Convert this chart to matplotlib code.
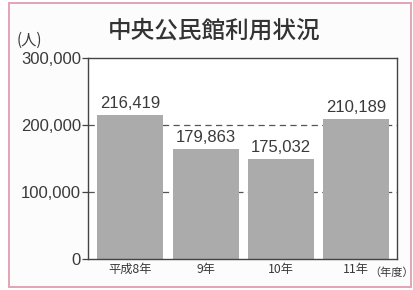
import matplotlib.pyplot as plt
from matplotlib.patches import Rectangle

# data
years = ['平成8年', '9年', '10年', '11年']
usage_labels = ['216,419', '179,863', '175,032', '210,189']
# bar heights as drawn in the picture (not to scale with the printed numbers)
bar_heights = [215000, 164000, 149000, 209000]
yticks = [0, 100000, 200000, 300000]
ytick_labels = ['0', '100,000', '200,000', '300,000']

plt.rcParams['font.family'] = ['Noto Sans CJK JP', 'DejaVu Sans']
num_font = 'Liberation Sans'
text_color = '#3a3a3a'

fig = plt.figure(figsize=(4.14, 2.90), dpi=100)
fig.patch.set_facecolor('white')

# pink frame round the whole chart
fig.patches.append(Rectangle((9 / 414, 3 / 290), 402 / 414, 284 / 290,
                             transform=fig.transFigure, fill=True,
                             facecolor='#fdfcfc', edgecolor='#e4a3b6',
                             linewidth=1.4, zorder=-1))

ax = fig.add_axes([88 / 414, 1 - 259 / 290, 309 / 414, 201 / 290])
ax.set_facecolor('white')

x = list(range(len(years)))
ax.bar(x, bar_heights, width=0.875, color='#ababab', zorder=2)

for xi, h, lab in zip(x, bar_heights, usage_labels):
    ax.annotate(lab, xy=(xi, h), xytext=(0, 3), textcoords='offset points',
                ha='center', va='bottom', fontsize=12, family=num_font,
                color=text_color)

# dashed guide lines behind the bars
for yv in [100000, 200000]:
    ax.axhline(yv, color='#555555', linewidth=0.9, linestyle=(0, (5, 3.5)), zorder=1)

ax.set_xlim(-0.56, 3.54)
ax.set_ylim(0, 300000)
ax.set_yticks(yticks)
ax.set_yticklabels(ytick_labels, family=num_font, fontsize=12, color=text_color)
ax.set_xticks(x)
ax.set_xticklabels(years, fontsize=8.8, color=text_color)
ax.tick_params(axis='x', length=0, pad=3)
ax.tick_params(axis='y', length=4, width=0.9, pad=1, color='#444444')

for s in ax.spines.values():
    s.set_color('#444444')
    s.set_linewidth(1.0)

ax.annotate('（年度）', xy=(3, 0), xytext=(9.2, -9.6), textcoords='offset points',
            ha='left', va='center', fontsize=8, color=text_color,
            annotation_clip=False)

fig.text(214 / 414, 1 - 31 / 290, '中央公民館利用状況', ha='center', va='center',
         fontsize=17, fontweight='medium', color='#333333')
fig.text(17 / 414, 1 - 40 / 290, '(人)', ha='left', va='center',
         fontsize=11, color=text_color)

fig.savefig('out.png', dpi=100)
